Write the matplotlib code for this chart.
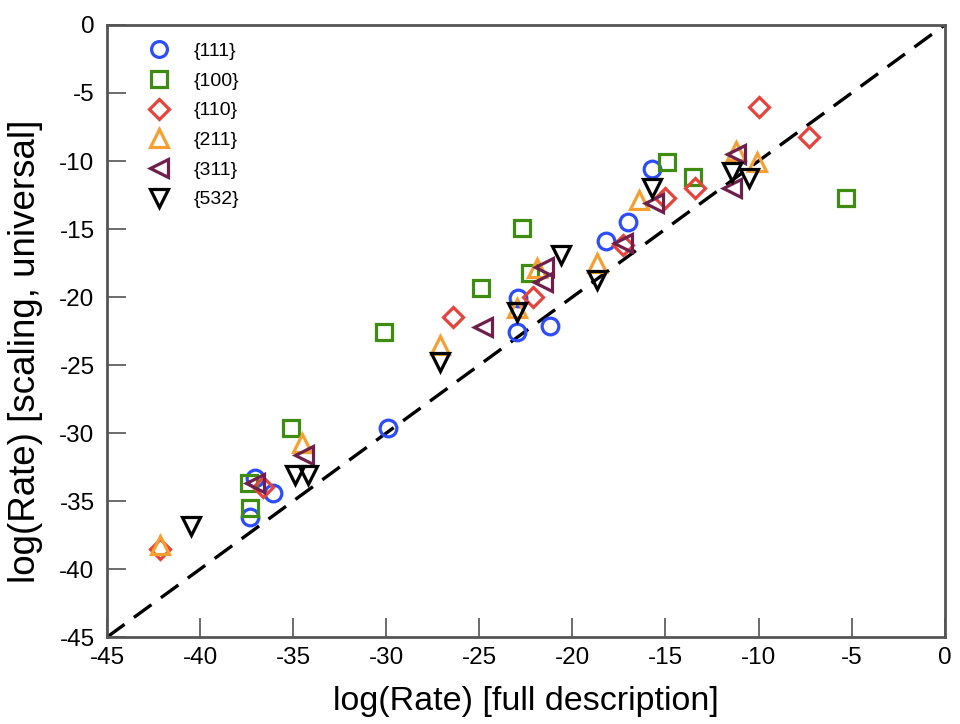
import matplotlib
matplotlib.use("Agg")
import matplotlib.pyplot as plt
import numpy as np

plt.rcParams["font.family"] = ["Liberation Sans", "DejaVu Sans"]
plt.rcParams["axes.unicode_minus"] = False

# {111}
x_111 = [-15.7, -17.0, -18.2, -22.9, -23.0, -21.2, -29.9, -37.05, -36.1, -37.3]
y_111 = [-10.6, -14.5, -15.9, -20.1, -22.6, -22.1, -29.6, -33.3, -34.4, -36.2]
# {100}
x_100 = [-5.3, -14.9, -13.5, -22.7, -22.3, -24.9, -30.1, -35.1, -37.4, -37.3]
y_100 = [-12.7, -10.1, -11.2, -14.9, -18.2, -19.3, -22.6, -29.6, -33.7, -35.5]
# {110}
x_110 = [-10.0, -7.3, -13.4, -15.0, -17.3, -22.1, -26.4, -36.6, -42.15]
y_110 = [-6.0, -8.2, -12.0, -12.7, -16.2, -20.0, -21.5, -34.0, -38.5]
# {211}
x_211 = [-11.2, -10.1, -16.4, -18.7, -21.9, -23.0, -27.1, -34.5, -42.15]
y_211 = [-9.3, -10.1, -12.9, -17.5, -17.9, -20.8, -23.5, -30.7, -38.2]
# {311}
x_311 = [-11.2, -11.4, -15.6, -17.3, -21.5, -21.6, -24.8, -34.4, -37.05]
y_311 = [-9.5, -12.0, -13.1, -16.0, -17.8, -18.9, -22.2, -31.6, -33.7]
# {532}
x_532 = [-11.4, -10.5, -15.7, -18.7, -20.6, -23.0, -27.1, -34.9, -34.2, -40.5]
y_532 = [-10.8, -11.25, -12.0, -18.75, -16.9, -21.1, -24.8, -33.1, -33.1, -36.8]

series = [
    ("{111}", x_111, y_111, "o", "#2b4cff", 12),
    ("{100}", x_100, y_100, "s", "#3f8c12", 12),
    ("{110}", x_110, y_110, "D", "#e8433a", 10.5),
    ("{211}", x_211, y_211, "^", "#f5a030", 13),
    ("{311}", x_311, y_311, "<", "#6e1f4c", 13),
    ("{532}", x_532, y_532, "v", "#000000", 13),
]

fig = plt.figure(figsize=(9.6, 7.24), dpi=100)
ax = fig.add_axes([0.1115, 0.12, 0.8725, 0.8455])

ax.plot([-45, 0], [-45, 0], color="black", linestyle=(0, (6.5, 3.5)), linewidth=2.4, zorder=1)

for label, xs, ys, marker, color, size in series:
    ax.plot(
        xs, ys,
        linestyle="none",
        marker=marker,
        markersize=size,
        markerfacecolor="none",
        markeredgecolor=color,
        markeredgewidth=2.3,
        label=label,
        zorder=3,
    )

ax.set_xlim(-45, 0)
ax.set_ylim(-45, 0)
ax.set_xticks(np.arange(-45, 1, 5))
ax.set_yticks(np.arange(-45, 1, 5))

for spine in ax.spines.values():
    spine.set_linewidth(2)
    spine.set_color("#555555")

ax.tick_params(
    axis="both",
    direction="in",
    length=14,
    width=1.1,
    color="#444444",
    labelsize=17.5,
)
ax.tick_params(axis="x", pad=7)
ax.tick_params(axis="y", pad=9)

ax.set_xlabel("log(Rate) [full description]", fontsize=24.5)
ax.set_ylabel("log(Rate) [scaling, universal]", fontsize=26.5)
ax.xaxis.set_label_coords(0.5, -0.08)
ax.yaxis.set_label_coords(-0.077, 0.467)

leg = ax.legend(
    loc="upper left",
    bbox_to_anchor=(0.018, 1.0),
    frameon=False,
    fontsize=14,
    handletextpad=0.8,
    labelspacing=0.62,
    markerscale=0.95,
)

fig.savefig("out.png", dpi=100)
